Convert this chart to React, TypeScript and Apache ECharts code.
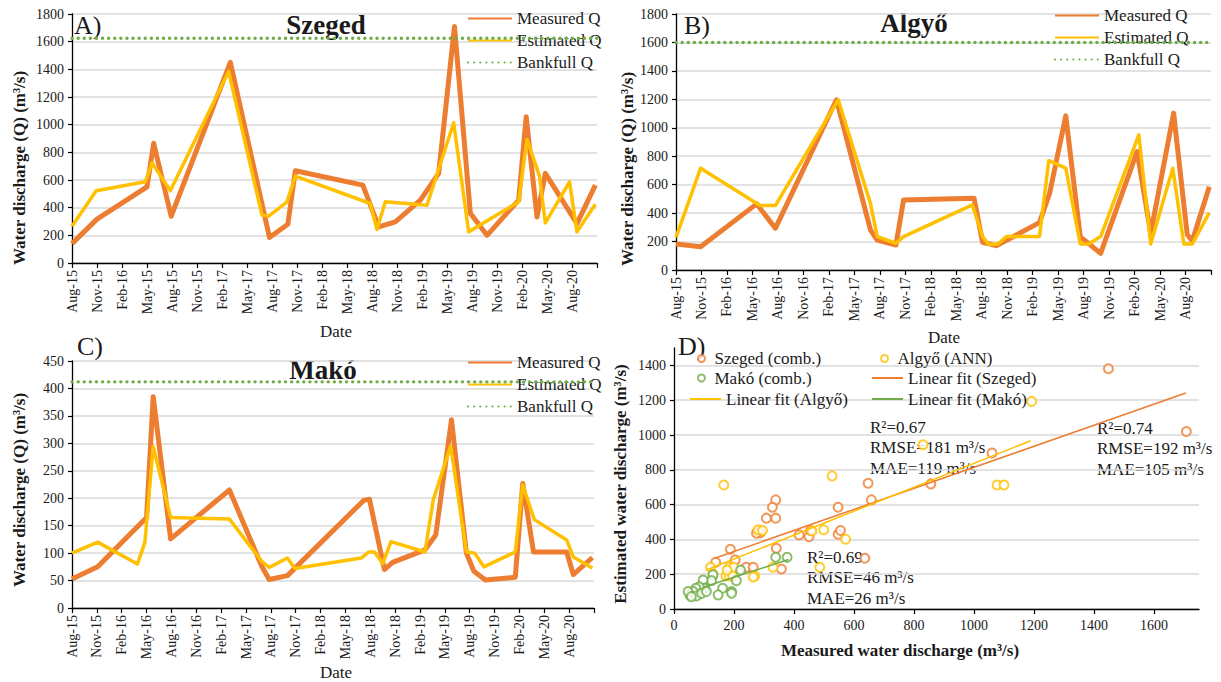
import React, { useEffect, useRef } from "react";
import * as echarts from "echarts";

const SERIF = "Liberation Serif";
const ORANGE = "#ED7D31";
const YELLOW = "#FFC000";
const GREEN = "#70AD47";
const INK = "#1a1a1a";
const GRID_GRAY = "#d9d9d9";

// Quarterly tick labels (t = months since Aug 2015, one label every 3 months)
const tickLabelsSzeged = [
  "Aug-15", "Nov-15", "Feb-16", "May-15", "Aug-15", "Nov-15", "Feb-17", "May-17",
  "Aug-17", "Nov-17", "Feb-18", "May-18", "Aug-18", "Nov-18", "Feb-19", "May-19",
  "Aug-19", "Nov-19", "Feb-20", "May-20", "Aug-20",
];
const tickLabels = [
  "Aug-15", "Nov-15", "Feb-16", "May-16", "Aug-16", "Nov-16", "Feb-17", "May-17",
  "Aug-17", "Nov-17", "Feb-18", "May-18", "Aug-18", "Nov-18", "Feb-19", "May-19",
  "Aug-19", "Nov-19", "Feb-20", "May-20", "Aug-20",
];

// A) Szeged
const szegedMeasT = [0, 3.0, 9.0, 9.8, 11.9, 19.0, 23.7, 25.9, 26.8, 34.9, 36.8, 38.8, 41.8, 44.0, 45.9, 47.8, 49.8, 53.6, 54.5, 55.8, 56.8, 60.6, 62.8];
const szegedMeasQ = [140, 317, 551, 865, 338, 1450, 184, 280, 667, 563, 261, 297, 454, 648, 1710, 360, 200, 454, 1058, 333, 648, 285, 563];
const szegedEstT = [0, 2.9, 8.8, 9.6, 11.8, 18.8, 22.8, 23.6, 25.8, 26.8, 35.8, 36.6, 37.6, 42.6, 45.8, 47.6, 53.6, 54.6, 56.1, 56.8, 59.7, 60.6, 62.8];
const szegedEstQ = [266, 522, 587, 725, 522, 1384, 346, 338, 442, 628, 430, 242, 442, 418, 1014, 225, 442, 893, 628, 290, 587, 225, 425];
const szegedBankfull = 1625;

// B) Algyő
const algyoMeasT = [0, 2.9, 9.5, 11.7, 18.9, 22.9, 23.7, 25.9, 26.8, 35.1, 36.1, 37.7, 42.8, 44.0, 45.9, 47.6, 50.0, 54.3, 55.9, 58.6, 60.2, 60.8, 62.8];
const algyoMeasQ = [183, 164, 465, 293, 1197, 282, 211, 176, 493, 505, 195, 171, 333, 540, 1084, 235, 117, 832, 258, 1103, 250, 205, 586];
const algyoEstT = [0, 2.9, 9.9, 11.7, 19.1, 22.9, 23.7, 25.9, 26.8, 34.9, 36.1, 36.8, 37.9, 38.9, 42.8, 43.9, 45.9, 47.6, 48.6, 50.0, 54.5, 55.9, 58.5, 59.8, 60.8, 62.8];
const algyoEstQ = [230, 716, 453, 453, 1197, 467, 235, 188, 235, 458, 235, 181, 181, 235, 235, 769, 716, 183, 183, 235, 950, 183, 716, 183, 183, 403];
const algyoBankfull = 1600;

// C) Makó
const makoMeasT = [0, 3.1, 9.0, 9.8, 11.9, 19.0, 22.9, 23.8, 26.0, 35.2, 35.9, 37.7, 38.7, 42.6, 43.9, 45.8, 47.6, 48.5, 49.9, 53.5, 54.4, 55.7, 59.7, 60.5, 62.8];
const makoMeasQ = [53, 75, 165, 385, 126, 215, 76, 52, 59, 196, 198, 70, 83, 106, 133, 343, 100, 67, 51, 56, 227, 102, 102, 61, 92];
const makoEstT = [0, 3.1, 7.9, 8.8, 9.8, 11.9, 19.0, 22.9, 23.8, 26.0, 26.9, 34.9, 35.8, 36.5, 37.5, 38.5, 42.6, 43.6, 45.7, 47.6, 48.6, 49.7, 53.5, 54.4, 55.8, 59.7, 60.5, 62.8];
const makoEstQ = [100, 120, 80, 120, 294, 165, 162, 85, 74, 91, 72, 91, 102, 102, 81, 121, 102, 197, 295, 102, 100, 75, 102, 224, 161, 124, 93, 73];
const makoBankfull = 412;

// D) measured vs estimated discharge
const szegedScatter = [
  [1448, 1381], [1708, 1020], [1060, 896], [856, 719], [647, 723], [658, 627], [547, 585],
  [339, 627], [328, 585], [308, 522], [339, 522], [280, 445], [288, 439], [275, 436],
  [417, 426], [450, 416], [455, 451], [547, 430], [555, 451], [341, 349], [188, 343],
  [204, 282], [139, 269], [241, 240], [264, 240], [358, 230], [636, 292],
];
const algyoScatter = [
  [1192, 1193], [830, 944], [527, 765], [166, 713], [1077, 713], [1100, 713], [499, 455],
  [572, 401], [460, 448], [280, 455], [295, 451], [122, 240], [184, 240], [199, 240],
  [173, 190], [184, 190], [195, 190], [177, 224], [269, 190], [264, 184], [330, 240],
  [486, 240], [130, 201],
];
const makoScatter = [
  [377, 297], [339, 297], [222, 224], [208, 163], [130, 196], [125, 163], [97, 167],
  [162, 119], [147, 81], [192, 100], [192, 90], [103, 119], [84, 128], [73, 119],
  [64, 100], [53, 81], [47, 100], [75, 75], [92, 90], [58, 71], [108, 100],
];
const szegedFit = [[136, 292], [1706, 1241]];
const algyoFit = [[108, 224], [1189, 967]];
const makoFit = [[97, 125], [382, 284]];

const statsAlgyo = ["R²=0.67", "RMSE=181 m³/s", "MAE=119 m³/s"];
const statsSzeged = ["R²=0.74", "RMSE=192 m³/s", "MAE=105 m³/s"];
const statsMako = ["R²=0.69", "RMSE=46 m³/s", "MAE=26 m³/s"];

const T_MAX = 63;

const zip = (t: number[], q: number[]) => t.map((x, i) => [x, q[i]]);
const plain = (v: number) => String(v);

const axisLineStyle = { lineStyle: { color: "#000", width: 1.3 } };
const axisTickStyle = { show: true, length: 5, lineStyle: { color: "#000", width: 1.2 } };
const labelText = { fontFamily: SERIF, fontSize: 14, color: INK };
const legendText = { fontFamily: SERIF, fontSize: 17, color: INK };

function timeXAxis(gridIndex: number, labels: string[]) {
  return {
    type: "value",
    gridIndex,
    min: 0,
    max: T_MAX,
    interval: 3,
    axisLine: axisLineStyle,
    axisTick: axisTickStyle,
    splitLine: { show: false },
    axisLabel: {
      ...labelText,
      rotate: 90,
      margin: 7,
      formatter: (v: number) => labels[Math.round(v / 3)] ?? "",
    },
  };
}

function valueYAxis(gridIndex: number, max: number, interval: number, extra: any = {}) {
  return {
    type: "value",
    gridIndex,
    min: 0,
    max,
    interval,
    axisLine: { show: true, ...axisLineStyle },
    axisTick: { ...axisTickStyle, length: 4 },
    axisLabel: { ...labelText, margin: 8, formatter: plain, ...(extra.axisLabel || {}) },
    splitLine: { show: true, lineStyle: { color: GRID_GRAY, width: 1.5 }, ...(extra.splitLine || {}) },
  };
}

function panelSeries(idx: number, mT: number[], mQ: number[], eT: number[], eQ: number[], bankfull: number) {
  return [
    {
      type: "line", name: "Measured Q", xAxisIndex: idx, yAxisIndex: idx,
      data: zip(mT, mQ), symbol: "none", z: 2,
      lineStyle: { color: ORANGE, width: 5, join: "round" }, itemStyle: { color: ORANGE },
    },
    {
      type: "line", name: "Estimated Q", xAxisIndex: idx, yAxisIndex: idx,
      data: zip(eT, eQ), symbol: "none", z: 3,
      lineStyle: { color: YELLOW, width: 3.5, join: "round" }, itemStyle: { color: YELLOW },
    },
    {
      type: "line", name: "Bankfull Q", xAxisIndex: idx, yAxisIndex: idx,
      data: [[0, bankfull], [T_MAX, bankfull]], symbol: "none", z: 5,
      lineStyle: { color: GREEN, width: 3.4, type: [0.1, 6], cap: "round" }, itemStyle: { color: GREEN },
    },
  ];
}

function tsLegend(left: number, top: number) {
  return {
    orient: "vertical", left, top, padding: 0, itemWidth: 44, itemHeight: 10, itemGap: 5,
    selectedMode: false, textStyle: legendText, itemStyle: { opacity: 0 },
    data: ["Measured Q", "Estimated Q", "Bankfull Q"],
  };
}

// Single-entry legend for the scatter panel; markers get a small box, fit lines a wide one
function dLegend(name: string, left: number, centerY: number, lineIcon: boolean) {
  return {
    left, top: centerY - 8, padding: 0,
    itemWidth: lineIcon ? 31 : 16, itemHeight: lineIcon ? 9 : 7,
    selectedMode: false, textStyle: legendText, data: [name],
    ...(lineIcon ? { itemStyle: { opacity: 0 } } : {}),
  };
}

function text(str: string, x: number, y: number, size: number, opts: any = {}) {
  return {
    type: "text", x, y, rotation: opts.rotation || 0, silent: true,
    style: {
      text: str, fontFamily: SERIF, fontSize: size, fontWeight: opts.bold ? "bold" : "normal",
      fill: INK, textAlign: opts.align || "left", textVerticalAlign: "middle",
    },
  };
}

function statsBlock(lines: string[], x: number, y: number) {
  return lines.map((s, i) => text(s, x, y + i * 20.5, 17));
}

export default function App() {
  const ref = useRef<HTMLDivElement>(null);

  useEffect(() => {
    document.body.style.margin = "0";
    const chart = echarts.init(ref.current!, null, { renderer: "svg" });
    const yTitle = "Water discharge (Q) (m³/s)";

    const option: any = {
      animation: false,
      backgroundColor: "#fff",
      textStyle: { fontFamily: SERIF, color: INK },
      grid: [
        { left: 72, top: 14, width: 525, height: 249 },
        { left: 676, top: 14, width: 535, height: 256 },
        { left: 72, top: 361, width: 522, height: 247 },
        { left: 674, top: 348, width: 525, height: 261 },
      ],
      xAxis: [
        timeXAxis(0, tickLabelsSzeged),
        timeXAxis(1, tickLabels),
        timeXAxis(2, tickLabels),
        {
          type: "value", gridIndex: 3, min: 0, max: 1750, interval: 200,
          axisLine: axisLineStyle, axisTick: axisTickStyle, splitLine: { show: false },
          axisLabel: {
            ...labelText, margin: 9, showMaxLabel: false,
            formatter: (v: number) => (v % 200 === 0 ? String(v) : ""),
          },
        },
      ],
      yAxis: [
        valueYAxis(0, 1800, 200),
        valueYAxis(1, 1800, 200),
        valueYAxis(2, 450, 50),
        valueYAxis(3, 1500, 200, {
          axisLabel: { showMaxLabel: false, formatter: (v: number) => (v % 200 === 0 ? String(v) : "") },
          splitLine: { showMaxLine: false },
        }),
      ],
      legend: [
        tsLegend(467, 10),
        tsLegend(1054, 7),
        tsLegend(467, 354),
        dLegend("Szeged (comb.)", 697, 358, false),
        dLegend("Algyő (ANN)", 880, 358, false),
        dLegend("Makó (comb.)", 697, 377.5, false),
        dLegend("Linear fit (Szeged)", 871, 377.5, true),
        dLegend("Linear fit (Algyő)", 689, 398.5, true),
        dLegend("Linear fit (Makó)", 871, 398.5, true),
      ],
      series: [
        ...panelSeries(0, szegedMeasT, szegedMeasQ, szegedEstT, szegedEstQ, szegedBankfull),
        ...panelSeries(1, algyoMeasT, algyoMeasQ, algyoEstT, algyoEstQ, algyoBankfull),
        ...panelSeries(2, makoMeasT, makoMeasQ, makoEstT, makoEstQ, makoBankfull),
        {
          type: "scatter", name: "Szeged (comb.)", xAxisIndex: 3, yAxisIndex: 3,
          data: szegedScatter, symbol: "emptyCircle", symbolSize: 9,
          itemStyle: { color: ORANGE, borderColor: ORANGE, borderWidth: 1.3 },
        },
        {
          type: "scatter", name: "Algyő (ANN)", xAxisIndex: 3, yAxisIndex: 3,
          data: algyoScatter, symbol: "emptyCircle", symbolSize: 9,
          itemStyle: { color: YELLOW, borderColor: YELLOW, borderWidth: 1.3 },
        },
        {
          type: "scatter", name: "Makó (comb.)", xAxisIndex: 3, yAxisIndex: 3,
          data: makoScatter, symbol: "emptyCircle", symbolSize: 9,
          itemStyle: { color: GREEN, borderColor: GREEN, borderWidth: 1.3 },
        },
        {
          type: "line", name: "Linear fit (Szeged)", xAxisIndex: 3, yAxisIndex: 3,
          data: szegedFit, symbol: "none", lineStyle: { color: ORANGE, width: 1.5 }, itemStyle: { color: ORANGE },
        },
        {
          type: "line", name: "Linear fit (Algyő)", xAxisIndex: 3, yAxisIndex: 3,
          data: algyoFit, symbol: "none", lineStyle: { color: YELLOW, width: 1.5 }, itemStyle: { color: YELLOW },
        },
        {
          type: "line", name: "Linear fit (Makó)", xAxisIndex: 3, yAxisIndex: 3,
          data: makoFit, symbol: "none", lineStyle: { color: GREEN, width: 1.5 }, itemStyle: { color: GREEN },
        },
      ],
      graphic: [
        text("A)", 74, 25, 26),
        text("Szeged", 326, 25, 27, { bold: true, align: "center" }),
        text("B)", 684, 25, 26),
        text("Algyő", 914, 23, 27, { bold: true, align: "center" }),
        text("C)", 77, 346, 26),
        text("Makó", 323, 370, 27, { bold: true, align: "center" }),
        text("D)", 678, 346, 26),
        text("Date", 336, 331, 17, { align: "center" }),
        text("Date", 944, 337, 17, { align: "center" }),
        text("Date", 336, 672, 17, { align: "center" }),
        text(yTitle, 19, 168, 17, { bold: true, align: "center", rotation: Math.PI / 2 }),
        text(yTitle, 627, 169, 17, { bold: true, align: "center", rotation: Math.PI / 2 }),
        text(yTitle, 19, 490, 17, { bold: true, align: "center", rotation: Math.PI / 2 }),
        text("Estimated water discharge (m³/s)", 620, 484, 17, { bold: true, align: "center", rotation: Math.PI / 2 }),
        text("Measured water discharge (m³/s)", 900, 650, 17, { bold: true, align: "center" }),
        ...statsBlock(statsAlgyo, 870, 427),
        ...statsBlock(statsSzeged, 1097, 428),
        ...statsBlock(statsMako, 807, 557),
      ],
    };

    chart.setOption(option);
    return () => chart.dispose();
  }, []);

  return <div ref={ref} style={{ width: 1221, height: 682 }} />;
}
